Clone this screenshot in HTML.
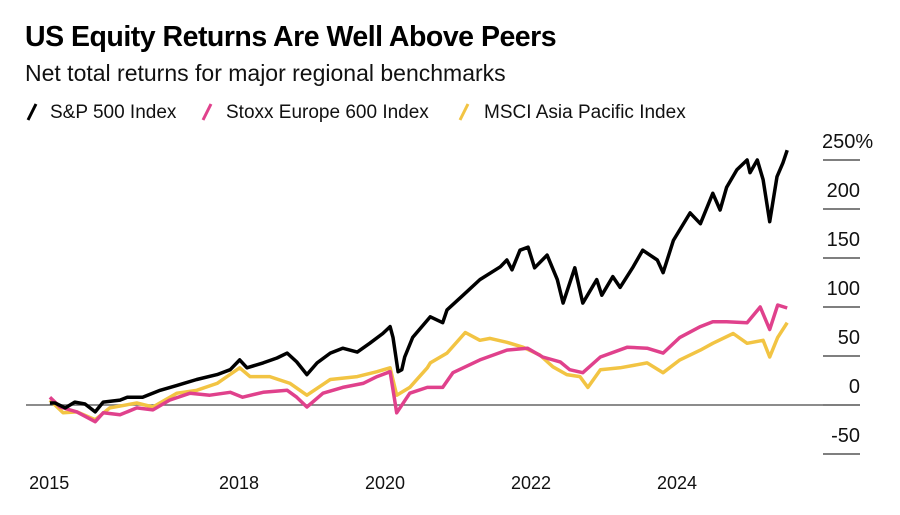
<!DOCTYPE html>
<html><head><meta charset="utf-8"><style>
body{margin:0;background:#fff;width:900px;height:510px;overflow:hidden;font-family:"Liberation Sans",sans-serif;}
</style></head><body>
<svg width="900" height="510" xmlns="http://www.w3.org/2000/svg">
<text x="25" y="46" font-size="28.5" font-weight="bold" letter-spacing="-0.5" fill="#000">US Equity Returns Are Well Above Peers</text>
<text x="25" y="81" font-size="23" fill="#111">Net total returns for major regional benchmarks</text>
<g font-size="19" fill="#111">
 <g><line x1="28" y1="120" x2="36" y2="104" stroke="#000" stroke-width="3"/><text x="50" y="118">S&amp;P 500 Index</text></g>
 <g><line x1="203" y1="120" x2="211" y2="104" stroke="#e0418c" stroke-width="3"/><text x="226" y="118">Stoxx Europe 600 Index</text></g>
 <g><line x1="460" y1="120" x2="468" y2="104" stroke="#f2c443" stroke-width="3"/><text x="484" y="118">MSCI Asia Pacific Index</text></g>
</g>
<g id="grid"></g>
<g id="xaxis"></g>
<g id="series"></g>
</svg>
<script>
const yTicks=[250,200,150,100,50,0,-50];
const yTickLabels=["250%","200","150","100","50","0","-50"];
const xTicks=[2015.4,2018,2020,2022,2024];
const xTickLabels=["2015","2018","2020","2022","2024"];
const spDates=[2015.41,2015.48,2015.62,2015.75,2015.89,2016.03,2016.14,2016.37,2016.47,2016.68,2016.92,2017.15,2017.42,2017.70,2017.88,2018.01,2018.11,2018.33,2018.52,2018.66,2018.79,2018.93,2019.07,2019.25,2019.42,2019.62,2019.79,2019.97,2020.07,2020.11,2020.18,2020.23,2020.27,2020.38,2020.62,2020.79,2020.85,2021.07,2021.30,2021.58,2021.67,2021.74,2021.85,2021.96,2022.05,2022.22,2022.36,2022.44,2022.60,2022.71,2022.90,2022.97,2023.12,2023.22,2023.40,2023.53,2023.73,2023.81,2023.95,2024.18,2024.32,2024.49,2024.59,2024.68,2024.82,2024.96,2025.00,2025.10,2025.18,2025.27,2025.37,2025.45,2025.51];
const spValues=[2,2,-3,3,1,-7,3,5,8,8,15,20,26,31,36,46,38,43,48,53,44,31,43,53,58,54,63,73,80,69,34,36,49,69,90,84,97,112,128,141,148,138,158,161,140,153,128,104,140,104,128,112,131,120,141,158,148,135,168,196,185,216,199,222,240,250,237,250,230,187,233,247,260];
const stoxxDates=[2015.41,2015.55,2015.78,2016.03,2016.14,2016.37,2016.60,2016.82,2017.05,2017.33,2017.60,2017.88,2018.05,2018.33,2018.66,2018.79,2018.93,2019.15,2019.42,2019.70,2019.89,2020.07,2020.16,2020.34,2020.58,2020.79,2020.93,2021.30,2021.67,2021.95,2022.16,2022.40,2022.53,2022.71,2022.95,2023.32,2023.59,2023.81,2024.04,2024.32,2024.49,2024.68,2024.96,2025.14,2025.27,2025.38,2025.51];
const stoxxValues=[8,-2,-7,-17,-8,-10,-3,-5,5,12,10,13,8,13,15,8,-2,12,18,22,29,34,-8,12,18,18,33,46,56,58,49,44,36,33,49,59,58,53,69,80,85,85,84,100,77,102,99];
const msciDates=[2015.41,2015.59,2015.78,2016.03,2016.23,2016.60,2016.82,2017.15,2017.42,2017.70,2018.01,2018.15,2018.42,2018.70,2018.93,2019.25,2019.62,2019.89,2020.07,2020.16,2020.34,2020.58,2020.62,2020.85,2021.10,2021.30,2021.44,2021.67,2021.89,2022.12,2022.30,2022.49,2022.67,2022.78,2022.95,2023.22,2023.59,2023.81,2024.04,2024.32,2024.49,2024.77,2024.96,2025.18,2025.27,2025.38,2025.51];
const msciValues=[5,-8,-7,-15,-3,2,-2,12,15,22,38,29,29,22,10,26,29,34,38,10,18,38,43,53,74,66,68,64,59,51,39,31,29,18,36,38,43,33,46,56,63,73,63,66,49,69,84];

const NS="http://www.w3.org/2000/svg";
function xS(t){return 385+(t-2020)*73;}
function yS(v){return 405-v*0.98;}
const grid=document.getElementById('grid');
yTicks.forEach((v,i)=>{
  const y=yS(v);
  const l=document.createElementNS(NS,'line');
  l.setAttribute('x1',823);l.setAttribute('x2',860);l.setAttribute('y1',y);l.setAttribute('y2',y);
  l.setAttribute('stroke','#333');l.setAttribute('stroke-width','1.3');
  
  
  grid.appendChild(l);
  const t=document.createElementNS(NS,'text');
  t.setAttribute('x',v===250?822:860);t.setAttribute('y',y-12);
  t.setAttribute('text-anchor',v===250?'start':'end');
  t.setAttribute('font-size','20');t.setAttribute('fill','#111');
  t.textContent=yTickLabels[i];
  
  
  grid.appendChild(t);
});
const zl=document.createElementNS(NS,'line');
zl.setAttribute('x1',26);zl.setAttribute('x2',823);zl.setAttribute('y1',yS(0));zl.setAttribute('y2',yS(0));
zl.setAttribute('stroke','#666');zl.setAttribute('stroke-width','1.5');


grid.appendChild(zl);
const xa=document.getElementById('xaxis');
xTicks.forEach((t,i)=>{
  const tx=document.createElementNS(NS,'text');
  tx.setAttribute('x',xS(t));tx.setAttribute('y',489);
  tx.setAttribute('text-anchor','middle');tx.setAttribute('font-size','18');tx.setAttribute('fill','#111');
  tx.textContent=xTickLabels[i];
  
  
  xa.appendChild(tx);
});
const sg=document.getElementById('series');
function draw(dates,vals,color,name){
  const p=document.createElementNS(NS,'path');
  p.setAttribute('d',dates.map((d,i)=>(i?'L':'M')+xS(d).toFixed(1)+','+yS(vals[i]).toFixed(1)).join(''));
  p.setAttribute('fill','none');p.setAttribute('stroke',color);p.setAttribute('stroke-width','3.5');
  p.setAttribute('stroke-linejoin','round');
  
  
  sg.appendChild(p);
}
draw(msciDates,msciValues,'#f2c443','msci-apac-line');
draw(stoxxDates,stoxxValues,'#e0418c','stoxx600-line');
draw(spDates,spValues,'#000','sp500-line');
</script>
</body></html>
